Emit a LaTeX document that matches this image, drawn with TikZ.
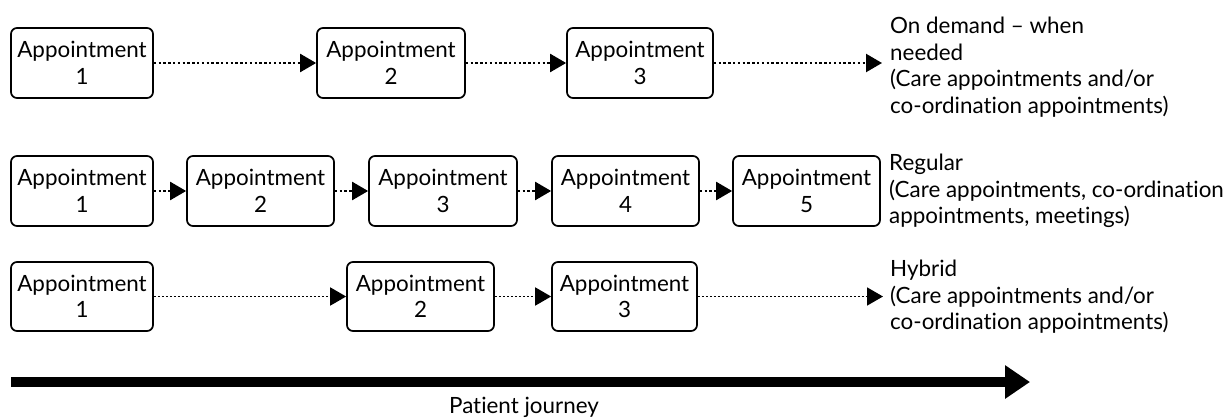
\documentclass[tikz,border=0pt]{standalone}
\usepackage{fontspec}
\setmainfont{Lato}[Ligatures=NoCommon]
\usetikzlibrary{arrows.meta}

\begin{document}
\begin{tikzpicture}[x=1pt,y=-1pt,
  every node/.style={font=\fontsize{22.4}{26.5}\selectfont},
  apt/.style={draw, line width=1.7pt, rounded corners=6pt, align=center,
              inner sep=0pt, minimum height=70pt},
  flow/.style={line width=2.2pt, dash pattern=on 2.4pt off 2.4pt,
               -{Triangle[length=16pt,width=18pt]}},
  fineflow/.style={flow, line width=1.8pt, dash pattern=on 2pt off 2pt},
  kind/.style={anchor=west, align=left, inner sep=0pt},
  journey/.style={line width=10pt, -{Triangle[length=25pt,width=32pt]}}]
\useasboundingbox (0,0) rectangle (1232,418);

% On demand
\node[apt, minimum width=142pt] (a1) at (82,63)    {Appointment\\1};
\node[apt, minimum width=148pt] (a2) at (391,63)   {Appointment\\2};
\node[apt, minimum width=146pt] (a3) at (640,63)   {Appointment\\3};
\coordinate (a4) at (882,63);
\draw[flow] (a1) -- (a2);
\draw[flow] (a2) -- (a3);
\draw[flow] (a3) -- (a4);
\node[kind] (ta) at (890,67) {On demand – when\\needed\\(Care appointments and/or\\co-ordination appointments)};

% Regular
\node[apt, minimum width=142pt] (b1) at (82,191)    {Appointment\\1};
\node[apt, minimum width=147pt] (b2) at (260.5,191) {Appointment\\2};
\node[apt, minimum width=148pt] (b3) at (443,191)   {Appointment\\3};
\node[apt, minimum width=147pt] (b4) at (625.5,191) {Appointment\\4};
\node[apt, minimum width=147pt] (b5) at (806.5,191) {Appointment\\5};
\draw[flow] (b1) -- (b2);
\draw[flow] (b2) -- (b3);
\draw[flow] (b3) -- (b4);
\draw[flow] (b4) -- (b5);
\node[kind] (tb) at (889,191) {Regular\\(Care appointments, co-ordination\\appointments, meetings)};

% Hybrid
\node[apt, minimum width=142pt, minimum height=69pt] (c1) at (82,296.5)    {Appointment\\1};
\node[apt, minimum width=147pt, minimum height=69pt] (c2) at (420.5,296.5) {Appointment\\2};
\node[apt, minimum width=145pt, minimum height=69pt] (c3) at (624.5,296.5) {Appointment\\3};
\coordinate (c4) at (883,296.5);
\draw[fineflow] (c1) -- (c2);
\draw[fineflow] (c2) -- (c3);
\draw[fineflow] (c3) -- (c4);
\node[kind] (tc) at (890,297) {Hybrid\\(Care appointments and/or\\co-ordination appointments)};

% Timeline
\coordinate (js) at (11,382);
\coordinate (je) at (1030,382);
\draw[journey] (js) -- (je);
\node (pj) at (524,407) {Patient journey};
\end{tikzpicture}
\end{document}
